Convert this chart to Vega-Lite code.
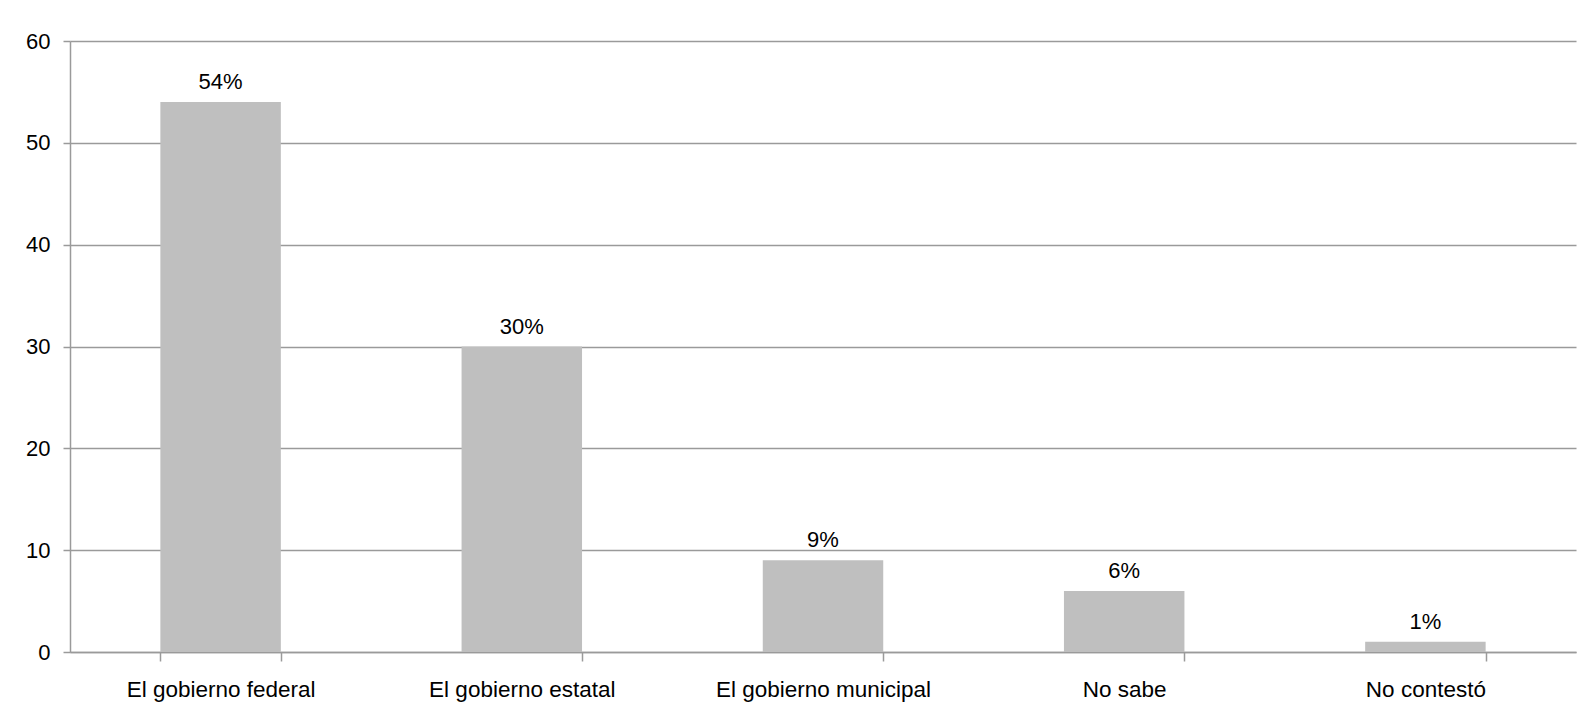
{
  "$schema": "https://vega.github.io/schema/vega-lite/v6.json",
  "autosize": {"type": "none"},
  "width": 1506,
  "height": 611,
  "padding": {"left": 70, "top": 41, "right": 13, "bottom": 65},
  "background": "white",
  "config": {
    "view": {"stroke": null},
    "font": "Liberation Sans",
    "axis": {
      "labelFont": "Liberation Sans",
      "labelColor": "#000000",
      "domainColor": "#9a9a9a",
      "tickColor": "#9a9a9a",
      "gridColor": "#9a9a9a",
      "domainWidth": 1.5,
      "tickWidth": 1.5,
      "gridWidth": 1.5,
      "labelLimit": 0
    }
  },
  "data": {
    "values": [
      {"categoria": "El gobierno federal", "valor": 54, "etiqueta": "54%"},
      {"categoria": "El gobierno estatal", "valor": 30, "etiqueta": "30%"},
      {"categoria": "El gobierno municipal", "valor": 9, "etiqueta": "9%"},
      {"categoria": "No sabe", "valor": 6, "etiqueta": "6%"},
      {"categoria": "No contestó", "valor": 1, "etiqueta": "1%"}
    ]
  },
  "encoding": {
    "x": {
      "field": "categoria",
      "type": "nominal",
      "sort": null,
      "scale": {"paddingInner": 0.6, "paddingOuter": 0.3, "align": 0.5},
      "axis": {
        "title": null,
        "labelAngle": 0,
        "labelFontSize": 22.5,
        "labelPadding": 17,
        "tickBand": "extent",
        "tickSize": 9,
        "grid": false
      }
    },
    "y": {
      "field": "valor",
      "type": "quantitative",
      "scale": {"domain": [0, 60], "nice": false},
      "axis": {
        "title": null,
        "values": [0, 10, 20, 30, 40, 50, 60],
        "labelFontSize": 22,
        "labelPadding": 13,
        "tickSize": 7,
        "grid": true,
        "domain": true
      }
    }
  },
  "layer": [
    {"mark": {"type": "bar", "color": "#bfbfbf"}},
    {
      "mark": {"type": "text", "baseline": "alphabetic", "dy": -13, "fontSize": 22, "color": "#000000", "font": "Liberation Sans"},
      "encoding": {"text": {"field": "etiqueta"}}
    }
  ]
}
